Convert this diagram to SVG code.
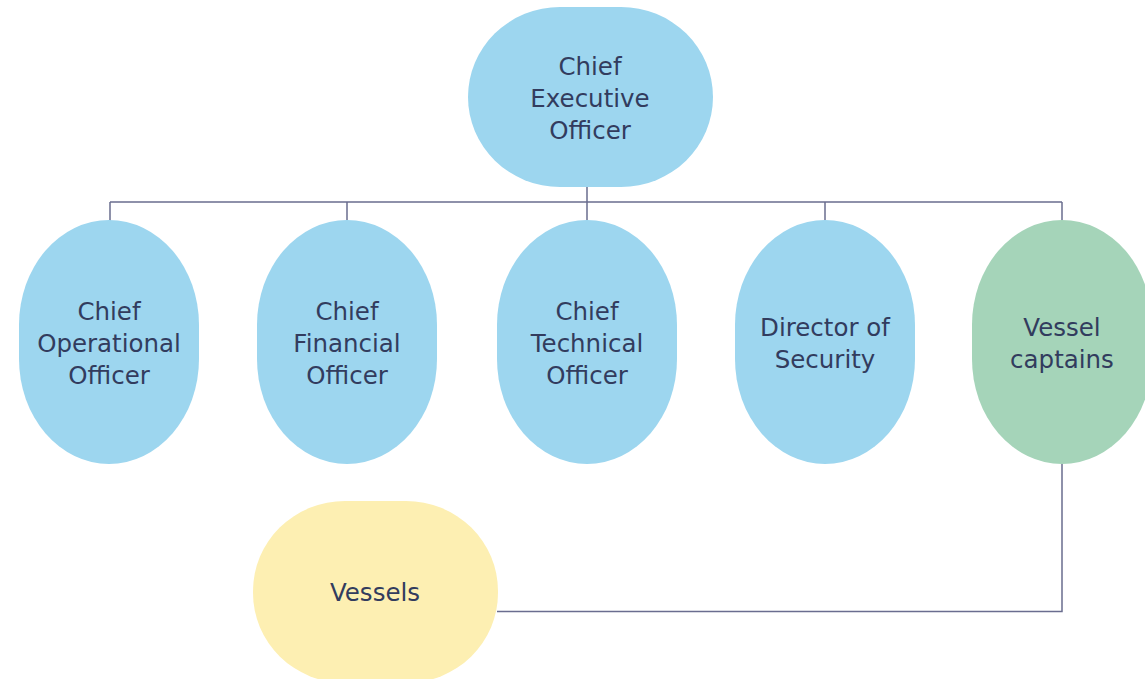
<svg xmlns="http://www.w3.org/2000/svg" width="1145" height="679" viewBox="0 0 1145 679">
<style>
.blue{fill:#9dd6ef}
.green{fill:#a5d4b9}
.yellow{fill:#fdefb2}
.lbl{font-family:"DejaVu Sans","Liberation Sans",sans-serif;font-size:24.5px;fill:#323c5e;text-anchor:middle}
.con{stroke:#6a6d8f;stroke-width:1.5;fill:none}
</style>
<rect width="1145" height="679" fill="#ffffff"/>
<g id="connectors">
<path class="con" d="M587 187V202M110 202H1062M110 202V221M347 202V221M587 202V221M825 202V221M1062 202V221"/>
<path class="con" d="M497 611.5H1062V464"/>
</g>
<g id="ceo">
<rect class="blue" x="468" y="7" width="245" height="180" rx="92" ry="90"/>
<text class="lbl" x="590" y="75">Chief</text>
<text class="lbl" x="590" y="107">Executive</text>
<text class="lbl" x="590" y="139">Officer</text>
</g>
<g id="coo">
<rect class="blue" x="19" y="220" width="180" height="244" rx="90" ry="105"/>
<text class="lbl" x="109" y="320">Chief</text>
<text class="lbl" x="109" y="352">Operational</text>
<text class="lbl" x="109" y="384">Officer</text>
</g>
<g id="cfo">
<rect class="blue" x="257" y="220" width="180" height="244" rx="90" ry="105"/>
<text class="lbl" x="347" y="320">Chief</text>
<text class="lbl" x="347" y="352">Financial</text>
<text class="lbl" x="347" y="384">Officer</text>
</g>
<g id="cto">
<rect class="blue" x="497" y="220" width="180" height="244" rx="90" ry="105"/>
<text class="lbl" x="587" y="320">Chief</text>
<text class="lbl" x="587" y="352">Technical</text>
<text class="lbl" x="587" y="384">Officer</text>
</g>
<g id="dos">
<rect class="blue" x="735" y="220" width="180" height="244" rx="90" ry="105"/>
<text class="lbl" x="825" y="336">Director of</text>
<text class="lbl" x="825" y="368">Security</text>
</g>
<g id="captains">
<rect class="green" x="972" y="220" width="180" height="244" rx="90" ry="105"/>
<text class="lbl" x="1062" y="336">Vessel</text>
<text class="lbl" x="1062" y="368">captains</text>
</g>
<g id="vessels">
<rect class="yellow" x="253" y="501" width="245" height="182" rx="92" ry="90"/>
<text class="lbl" x="375" y="601">Vessels</text>
</g>
</svg>
